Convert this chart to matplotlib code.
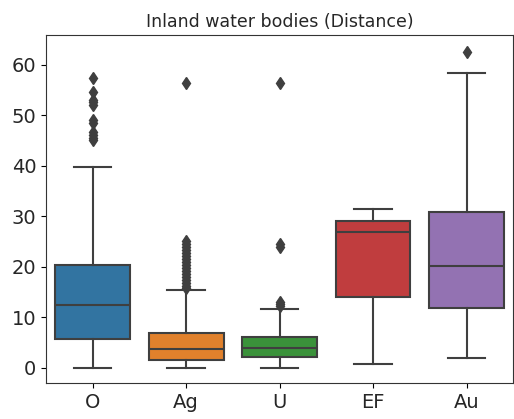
import matplotlib.pyplot as plt

groups = ["O", "Ag", "U", "EF", "Au"]
whislo = [0.0, 0.0, 0.0, 0.8, 2.0]
q1 = [5.7, 1.6, 2.2, 14.1, 11.8]
med = [12.4, 3.8, 4.0, 27.0, 20.1]
q3 = [20.4, 6.9, 6.1, 29.1, 30.8]
whishi = [39.8, 15.4, 11.6, 31.5, 58.5]
fliers = [
    [45.1, 45.6, 46.2, 46.8, 48.5, 49.1, 52.0, 52.6, 53.0, 54.7, 57.4],
    [15.8, 16.3, 16.9, 17.4, 18.0, 18.6, 19.1, 19.7, 20.3, 20.9, 21.5,
     22.1, 22.8, 23.4, 24.0, 24.6, 25.2, 56.4],
    [12.2, 12.6, 13.0, 24.0, 24.5, 56.4],
    [],
    [62.6],
]
colors = ["#3274a1", "#e1812c", "#3a923a", "#c03d3e", "#9372b2"]

stats = []
for i in range(len(groups)):
    stats.append(dict(label=groups[i], whislo=whislo[i], q1=q1[i], med=med[i],
                      q3=q3[i], whishi=whishi[i], fliers=fliers[i]))

fig = plt.figure(figsize=(5.14, 4.19), dpi=100)
ax = fig.add_axes([0.0895, 0.086, 0.909, 0.83])

line_c = "#3f3f3f"
bp = ax.bxp(stats, widths=0.8, patch_artist=True, showfliers=True,
            boxprops=dict(edgecolor=line_c, linewidth=1.5),
            medianprops=dict(color=line_c, linewidth=1.5),
            whiskerprops=dict(color=line_c, linewidth=1.5),
            capprops=dict(color=line_c, linewidth=1.5),
            flierprops=dict(marker="d", markerfacecolor=line_c,
                            markeredgecolor=line_c, markersize=6))
for patch, c in zip(bp["boxes"], colors):
    patch.set_facecolor(c)
for cap in bp["caps"]:
    x = cap.get_xdata()
    mid = (x[0] + x[1]) / 2
    cap.set_xdata([mid - 0.2, mid + 0.2])

ax.set_xlim(0.5, 5.5)
ax.set_ylim(-3, 65.9)
ax.set_yticks([0, 10, 20, 30, 40, 50, 60])
ax.tick_params(labelsize=14, labelcolor="#262626")
for s in ax.spines.values():
    s.set_color("#333333")
ax.set_title("Inland water bodies (Distance)", fontsize=12.5, color="#262626")

fig.savefig("out.png", dpi=100)
